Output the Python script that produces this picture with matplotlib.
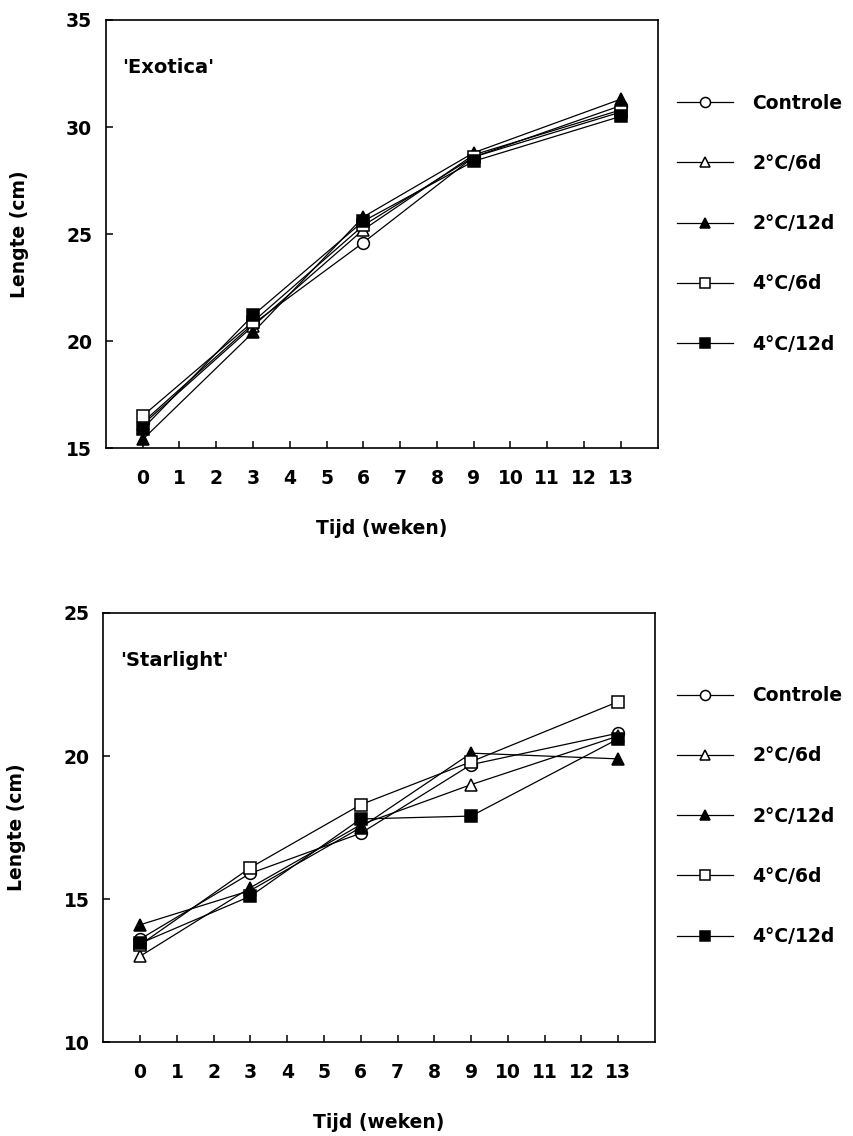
import numpy as np
import matplotlib
matplotlib.use("Agg")
import matplotlib.pyplot as plt

# meetmomenten (weken)
weken = [0, 3, 6, 9, 13]

behandelingen = ["Controle", "2°C/6d", "2°C/12d", "4°C/6d", "4°C/12d"]

# lengte (cm) per behandeling, 'Exotica'
exotica_controle = [16.2, 20.8, 24.6, 28.6, 31.0]
exotica_2c6d = [16.1, 20.7, 25.2, 28.7, 30.8]
exotica_2c12d = [15.4, 20.4, 25.8, 28.8, 31.3]
exotica_4c6d = [16.5, 20.9, 25.4, 28.6, 30.7]
exotica_4c12d = [15.9, 21.2, 25.6, 28.4, 30.5]

# lengte (cm) per behandeling, 'Starlight'
starlight_controle = [13.6, 15.9, 17.3, 19.7, 20.8]
starlight_2c6d = [13.0, 15.4, 17.6, 19.0, 20.7]
starlight_2c12d = [14.1, 15.3, 17.5, 20.1, 19.9]
starlight_4c6d = [13.4, 16.1, 18.3, 19.8, 21.9]
starlight_4c12d = [13.45, 15.1, 17.8, 17.9, 20.6]

exotica = [exotica_controle, exotica_2c6d, exotica_2c12d, exotica_4c6d, exotica_4c12d]
starlight = [starlight_controle, starlight_2c6d, starlight_2c12d, starlight_4c6d, starlight_4c12d]

markers = ["o", "^", "^", "s", "s"]
fills = ["white", "white", "black", "white", "black"]

plt.rcParams["font.family"] = ["DejaVu Sans"]
plt.rcParams["font.weight"] = "bold"
FS = 13.5


def teken(ax, reeksen, naam, ylim, yticks):
    for vals, lab, m, fc in zip(reeksen, behandelingen, markers, fills):
        ax.plot(weken, vals, color="black", lw=0.9, marker=m, ms=8.5,
                mfc=fc, mec="black", mew=1.1, label=lab)
    ax.set_xlim(-1, 14)
    ax.set_ylim(*ylim)
    ax.set_xticks(range(14))
    ax.set_yticks(yticks)
    ax.tick_params(direction="in", length=5, width=1.1, labelsize=FS)
    ax.tick_params(axis="x", pad=15)
    ax.tick_params(axis="y", pad=10)
    for lbl in ax.get_xticklabels() + ax.get_yticklabels():
        lbl.set_fontweight("bold")
    for s in ax.spines.values():
        s.set_linewidth(1.2)
    ax.text(0.03, 0.89, naam, transform=ax.transAxes, fontsize=FS + 0.5,
            fontweight="bold", va="center", ha="left")
    ax.set_xlabel("Tijd (weken)", fontsize=FS, fontweight="bold")
    ax.set_ylabel("Lengte (cm)", fontsize=FS, fontweight="bold")
    ax.xaxis.set_label_coords(0.5, -0.165)
    ax.yaxis.set_label_coords(-0.14, 0.5)


fig = plt.figure(figsize=(8.54, 11.36), dpi=100)
ax1 = fig.add_axes([0.124, 0.6056, 0.646, 0.3768])
ax2 = fig.add_axes([0.121, 0.0827, 0.646, 0.3777])

teken(ax1, exotica, "'Exotica'", (15, 35), [15, 20, 25, 30, 35])
teken(ax2, starlight, "'Starlight'", (10, 25), [10, 15, 20, 25])

for ax, ytop in [(ax1, 0.9176), (ax2, 0.396)]:
    h, l = ax.get_legend_handles_labels()
    fig.legend(h, l, loc="upper left", bbox_to_anchor=(0.793, ytop),
               frameon=False, handlelength=3.0, handletextpad=1.0,
               labelspacing=2.2, borderaxespad=0, borderpad=0,
               markerscale=0.85, prop={"size": FS, "weight": "bold"})

fig.savefig("out.png", dpi=100, facecolor="white")
